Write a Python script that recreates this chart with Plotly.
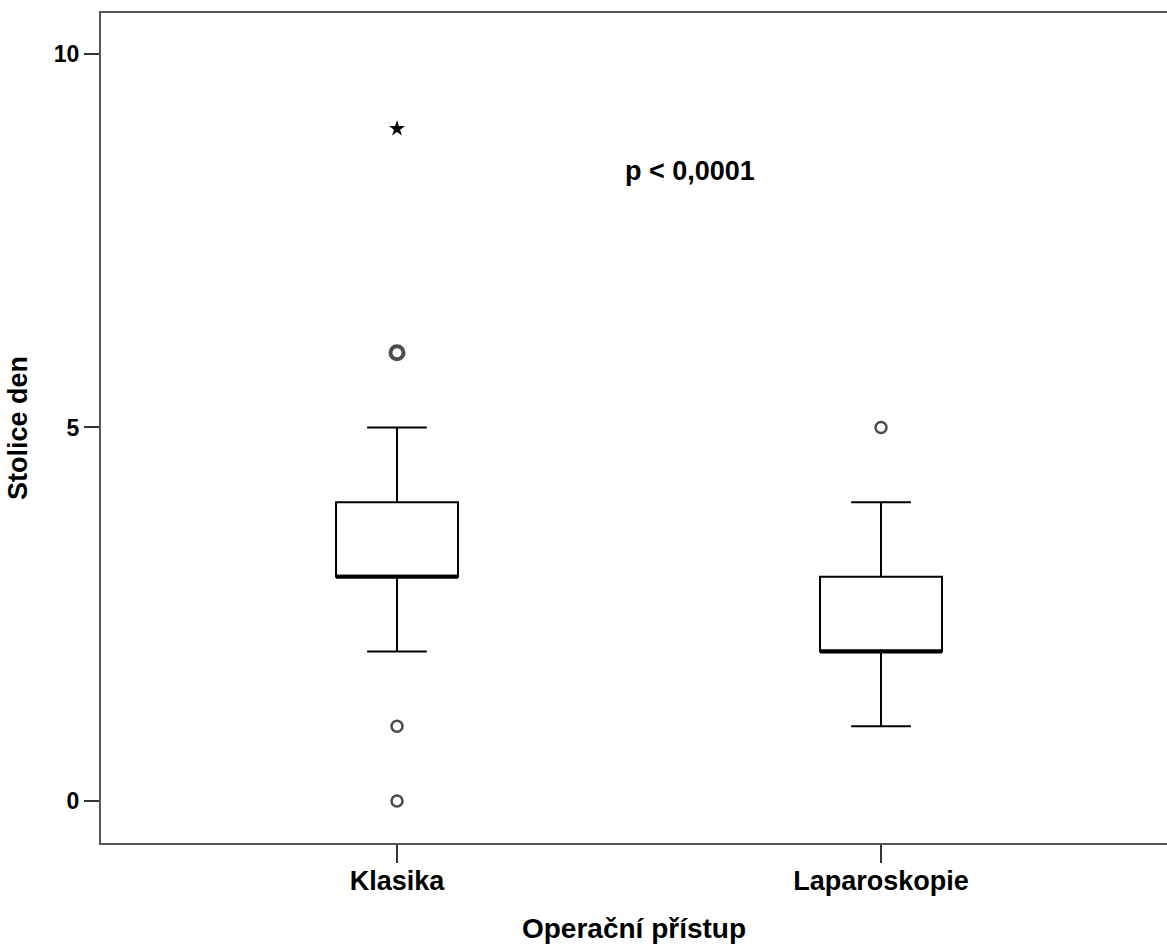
import plotly.graph_objects as go
from collections import Counter

# ---- data ----
categories = ["Klasika", "Laparoskopie"]
q1 = [3, 2]
median = [3, 2]
q3 = [4, 3]
lower_whisker = [2, 1]
upper_whisker = [5, 4]
outliers = [[6, 6, 1, 0], [5]]
extremes = [[9], []]
y_ticks = [0, 5, 10]
x_title = "Operační přístup"
y_title = "Stolice den"
p_text = "p < 0,0001"

FONT = "Liberation Sans, Arial, sans-serif"
BOX_W = 0.252
positions = list(range(len(categories)))

fig = go.Figure()

for i, cat in enumerate(categories):
    fig.add_trace(go.Box(
        x=[positions[i]], q1=[q1[i]], median=[median[i]], q3=[q3[i]],
        lowerfence=[lower_whisker[i]], upperfence=[upper_whisker[i]],
        width=BOX_W, whiskerwidth=0.49, boxpoints=False,
        fillcolor="white", line=dict(color="black", width=2),
        showlegend=False, hoverinfo="skip", name=cat,
    ))
    # thicker median line
    fig.add_trace(go.Scatter(
        x=[positions[i] - BOX_W / 2, positions[i] + BOX_W / 2],
        y=[median[i], median[i]], mode="lines",
        line=dict(color="black", width=4), showlegend=False, hoverinfo="skip",
    ))
    cnt = Counter(outliers[i])
    if cnt:
        vals = list(cnt.keys())
        fig.add_trace(go.Scatter(
            x=[positions[i]] * len(vals), y=vals, mode="markers",
            marker=dict(symbol="circle-open", size=[11 + 2 * (cnt[v] - 1) for v in vals],
                        color="black",
                        line=dict(color="black", width=[2.5 + 1.5 * (cnt[v] - 1) for v in vals])),
            showlegend=False, hoverinfo="skip",
        ))
    if extremes[i]:
        fig.add_trace(go.Scatter(
            x=[positions[i]] * len(extremes[i]), y=extremes[i], mode="markers",
            marker=dict(symbol="star", size=12, color="black"),
            showlegend=False, hoverinfo="skip",
        ))

fig.add_annotation(x=0.605, y=8.43, text=p_text, showarrow=False,
                   font=dict(family=FONT, size=27, color="black", weight="bold"))

fig.update_layout(
    width=1167, height=947,
    margin=dict(l=101, r=0, t=13, b=104),
    paper_bgcolor="white", plot_bgcolor="white",
    font=dict(family=FONT, color="black"),
)
fig.update_xaxes(
    range=[-0.6116, 1.5909], tickvals=positions, ticktext=categories,
    showgrid=False, zeroline=False, showline=True, linecolor="#555555", linewidth=2,
    mirror=True, ticks="outside", ticklen=18, tickwidth=2, tickcolor="#333333",
    ticklabelstandoff=-5,
    tickfont=dict(family=FONT, size=27, color="black", weight="bold"),
    title=dict(text=x_title, font=dict(family=FONT, size=28, color="black", weight="bold"),
               standoff=23),
)
fig.update_yaxes(
    range=[-0.563, 10.549], tickvals=y_ticks, ticktext=[str(t) for t in y_ticks],
    showgrid=False, zeroline=False, showline=True, linecolor="#555555", linewidth=2,
    mirror=False, ticks="outside", ticklen=15, tickwidth=2, tickcolor="#333333",
    tickfont=dict(family=FONT, size=23, color="black", weight="bold"),
    title=dict(text=y_title, font=dict(family=FONT, size=27, color="black", weight="bold"),
               standoff=18),
)

fig.write_html(
    "out.html",
    config={"displayModeBar": False},
    post_script="document.body.style.margin='0';document.body.style.overflow='hidden';",
)
